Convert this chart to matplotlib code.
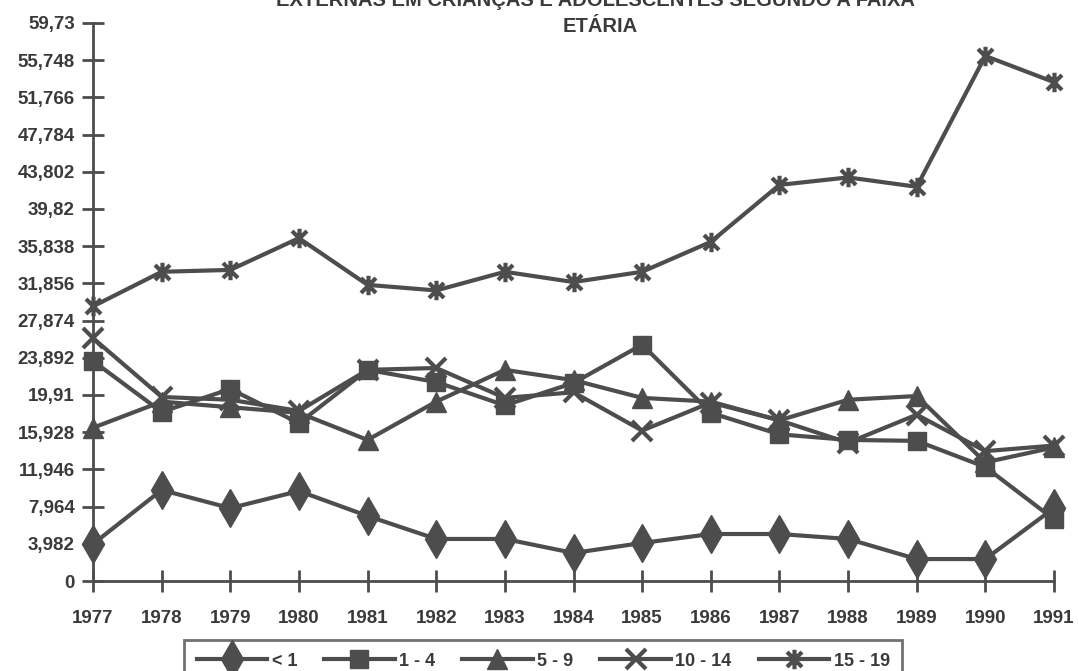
import matplotlib
matplotlib.use("Agg")
import matplotlib.pyplot as plt
from matplotlib.path import Path

years = list(range(1977, 1992))
series_names = ["< 1", "1 - 4", "5 - 9", "10 - 14", "15 - 19"]
lt1 = [3.96, 9.74, 7.8, 9.63, 6.96, 4.5, 4.5, 3.0, 4.07, 5.03, 5.03, 4.5, 2.35, 2.35, 7.8]
a1_4 = [23.55, 18.1, 20.55, 16.9, 22.6, 21.3, 18.8, 21.2, 25.3, 18.0, 15.7, 15.1, 15.0, 12.2, 6.6]
a5_9 = [16.4, 19.2, 18.6, 18.0, 15.1, 19.2, 22.6, 21.5, 19.6, 19.2, 17.2, 19.4, 19.8, 12.7, 14.3]
a10_14 = [26.0, 19.7, 19.4, 18.2, 22.6, 22.8, 19.6, 20.2, 16.1, 19.1, 17.2, 14.8, 17.8, 13.9, 14.5]
a15_19 = [29.4, 33.1, 33.3, 36.7, 31.7, 31.1, 33.1, 32.0, 33.1, 36.3, 42.4, 43.2, 42.2, 56.2, 53.4]
ytick_vals = [i * 3.982 for i in range(16)]
ytick_labels = ["0", "3,982", "7,964", "11,946", "15,928", "19,91", "23,892", "27,874",
                "31,856", "35,838", "39,82", "43,802", "47,784", "51,766", "55,748", "59,73"]
title_line1 = "EXTERNAS EM CRIANÇAS E ADOLESCENTES SEGUNDO A FAIXA"
title_line2 = "ETÁRIA"

plt.rcParams['font.family'] = ['Liberation Sans', 'DejaVu Sans']
col = "#4d4d4d"
tcol = "#3a3a3a"

star = Path([(-1, -1), (1, 1), (-1, 1), (1, -1), (0, -1.3), (0, 1.3)],
            [Path.MOVETO, Path.LINETO, Path.MOVETO, Path.LINETO, Path.MOVETO, Path.LINETO])

fig = plt.figure(figsize=(10.79, 6.71), dpi=100)
ax = fig.add_axes([93/1079, 1-581/671, (1054-93)/1079, (581-23)/671])

styles = [
    dict(marker='d', ms=19, mfc=col, mec=col, mew=1),
    dict(marker='s', ms=13, mfc=col, mec=col, mew=1),
    dict(marker='^', ms=15, mfc=col, mec=col, mew=1),
    dict(marker='x', ms=14, mfc='none', mec=col, mew=3),
    dict(marker=star, ms=14, mfc='none', mec=col, mew=3),
]
for data, name, st in zip([lt1, a1_4, a5_9, a10_14, a15_19], series_names, styles):
    ax.plot(years, data, color=col, lw=3, label=name, clip_on=False, **st)

ax.set_xlim(1977, 1991)
ax.set_ylim(0, 59.73)
ax.set_xticks(years)
ax.set_xticklabels([str(y) for y in years], fontsize=13.5, fontweight='bold', color=tcol)
ax.set_yticks(ytick_vals)
ax.set_yticklabels(ytick_labels, fontsize=13.5, fontweight='bold', color=tcol)
for s in ['top', 'right']:
    ax.spines[s].set_visible(False)
for s in ['left', 'bottom']:
    ax.spines[s].set_color(col)
    ax.spines[s].set_linewidth(2)
ax.tick_params(axis='both', direction='inout', length=16, width=2, color=col)
ax.tick_params(axis='y', pad=5)
ax.tick_params(axis='x', pad=13)

fig.text(595/1079, 1 - 1/671, title_line1, ha='center', va='center', fontsize=14.5,
         fontweight='bold', color=tcol)
fig.text(600/1079, 1 - 27/671, title_line2, ha='center', va='center', fontsize=14.5,
         fontweight='bold', color=tcol)

leg = fig.legend(loc='upper left', bbox_to_anchor=(184/1079, 1 - 640/671), ncol=5,
                 frameon=True, fancybox=False, handlelength=3.9, handletextpad=0.25,
                 columnspacing=1.5, borderpad=0.7, borderaxespad=0,
                 prop={'weight': 'bold', 'size': 13})
leg.get_frame().set_edgecolor(col)
leg.get_frame().set_linewidth(2)
for t in leg.get_texts():
    t.set_color(tcol)

fig.savefig("out.png", dpi=100)
